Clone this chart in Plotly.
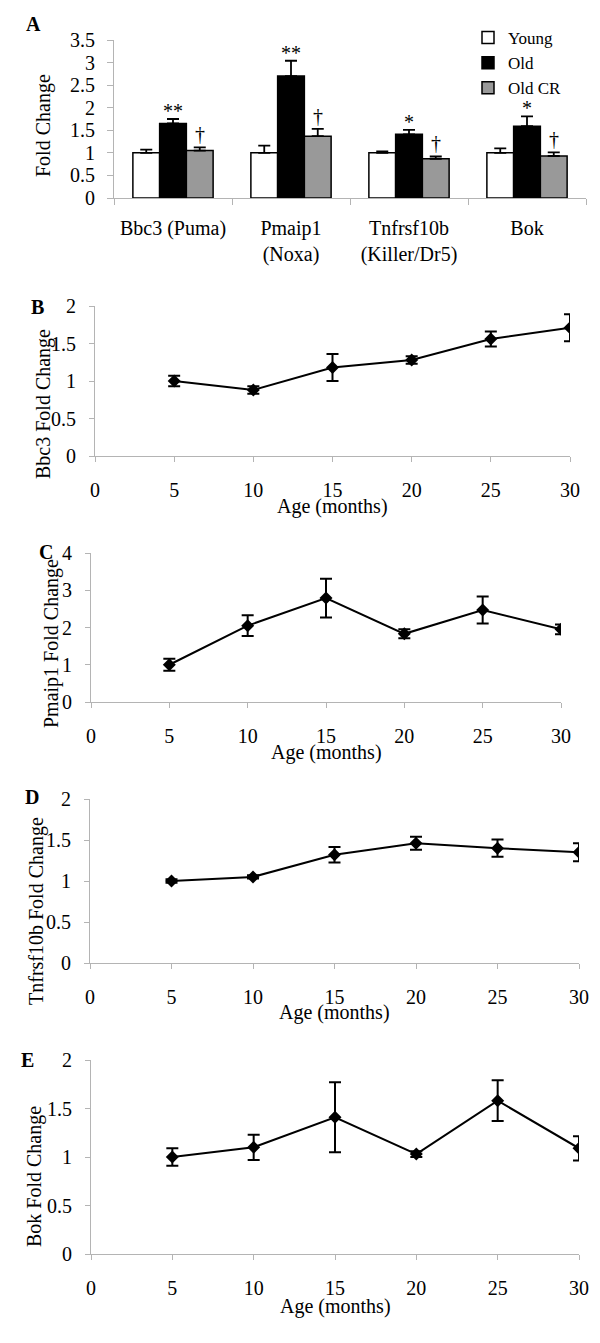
import plotly.graph_objects as go

# page body has an 8px margin; the figure is sized so it fits the window exactly
OFF = 8
W, H = 600 - OFF, 1343 - OFF

# ---------------- Data ----------------
genes = ["Bbc3 (Puma)", "Pmaip1<br>(Noxa)", "Tnfrsf10b<br>(Killer/Dr5)", "Bok"]
young = [1.0, 1.0, 1.0, 1.0]
young_err = [0.07, 0.16, 0.03, 0.10]
old = [1.65, 2.70, 1.41, 1.59]
old_err = [0.10, 0.34, 0.10, 0.22]
old_cr = [1.05, 1.37, 0.87, 0.93]
old_cr_err = [0.07, 0.16, 0.05, 0.08]
sig_old = ["**", "**", "*", "*"]
sig_cr = ["†", "†", "†", "†"]

age = [5, 10, 15, 20, 25, 30]
bbc3 = [1.00, 0.88, 1.18, 1.28, 1.56, 1.71]
bbc3_err = [0.07, 0.05, 0.18, 0.05, 0.10, 0.18]
pmaip1 = [1.00, 2.05, 2.79, 1.83, 2.47, 1.95]
pmaip1_err = [0.16, 0.28, 0.52, 0.12, 0.36, 0.13]
tnfrsf10b = [1.00, 1.05, 1.32, 1.46, 1.40, 1.35]
tnfrsf10b_err = [0.02, 0.02, 0.095, 0.08, 0.105, 0.11]
bok = [1.00, 1.10, 1.41, 1.03, 1.58, 1.09]
bok_err = [0.09, 0.13, 0.36, 0.03, 0.21, 0.125]

FONT = "Liberation Serif, Times New Roman, serif"
AXC = "#b4b4b4"
FS = 20

def xd(a, b):
    return [(a - OFF) / W, (b - OFF) / W]

def yd(top, bottom):
    return [1 - (bottom - OFF) / H, 1 - (top - OFF) / H]

def pap(px, py):
    return (px - OFF) / W, 1 - (py - OFF) / H

fig = go.Figure()

# ---------------- Panel A ----------------
for name, vals, errs, fill in [("Young", young, young_err, "white"),
                               ("Old", old, old_err, "black"),
                               ("Old CR", old_cr, old_cr_err, "#999999")]:
    fig.add_trace(go.Bar(
        x=genes, y=vals, name=name, xaxis="x", yaxis="y",
        marker=dict(color=fill, line=dict(color="black", width=1.5)),
        error_y=dict(type="data", array=errs, arrayminus=[0] * len(errs),
                     symmetric=False, color="black", thickness=1.8, width=6),
    ))

line_panels = [
    ("x2", "y2", bbc3, bbc3_err),
    ("x3", "y3", pmaip1, pmaip1_err),
    ("x4", "y4", tnfrsf10b, tnfrsf10b_err),
    ("x5", "y5", bok, bok_err),
]
for xa, ya, vals, errs in line_panels:
    fig.add_trace(go.Scatter(
        x=age, y=vals, xaxis=xa, yaxis=ya, mode="lines+markers",
        showlegend=False,
        line=dict(color="black", width=2),
        marker=dict(symbol="diamond", size=10, color="black"),
        error_y=dict(type="data", array=errs, color="black", thickness=2, width=6),
    ))

tickfont = dict(family=FONT, size=FS, color="black")

def lin_axes(n, x0, x1, top, bottom, ymax, dtick, ystand):
    fig.layout[f"xaxis{n}"] = dict(
        domain=xd(x0, x1), anchor=f"y{n}", range=[0, 30],
        tickmode="array", tickvals=[0, 5, 10, 15, 20, 25, 30],
        showline=True, linecolor=AXC, linewidth=1,
        ticks="outside", ticklen=5, tickcolor=AXC,
        showgrid=False, zeroline=False, tickfont=tickfont,
        ticklabelstandoff=11, automargin=False, tickangle=0)
    fig.layout[f"yaxis{n}"] = dict(
        domain=yd(top, bottom), anchor=f"x{n}", range=[0, ymax],
        dtick=dtick, showline=True, linecolor=AXC, linewidth=1,
        ticks="outside", ticklen=5, tickcolor=AXC,
        showgrid=False, zeroline=False, tickfont=tickfont,
        ticklabelstandoff=ystand, automargin=False)

fig.update_layout(
    width=W, height=H, margin=dict(l=0, r=0, t=0, b=0, autoexpand=False),
    paper_bgcolor="white", plot_bgcolor="white",
    font=dict(family=FONT, size=FS, color="black"),
    barmode="group", bargap=0.32, bargroupgap=0,
    legend=dict(x=(468 - OFF) / W, y=1 - (20 - OFF) / H, xanchor="left", yanchor="top",
                font=dict(family=FONT, size=17, color="black"),
                bgcolor="rgba(0,0,0,0)", itemwidth=30, tracegroupgap=0),
    xaxis=dict(domain=xd(114, 586), anchor="y", showline=True, linecolor=AXC,
               ticks="outside", ticklen=6, tickcolor=AXC, tickson="boundaries",
               showgrid=False, tickfont=tickfont, ticklabelstandoff=12,
               automargin=False, tickangle=0),
    yaxis=dict(domain=yd(40, 198), anchor="x", range=[0, 3.5], dtick=0.5,
               showline=True, linecolor=AXC, ticks="outside", ticklen=6,
               tickcolor=AXC, showgrid=False, zeroline=False, tickfont=tickfont,
               ticklabelstandoff=8, automargin=False),
)

lin_axes(2, 95, 570, 306, 456, 2, 0.5, 9)
lin_axes(3, 91, 561, 553, 702, 4, 1, 9)
lin_axes(4, 90, 579, 799, 963, 2, 0.5, 9)
lin_axes(5, 91, 579, 1060, 1254, 2, 0.5, 9)

ann = []
# significance marks (bar width in px used to place the Old CR mark)
bar_px = (586 - 114) / len(genes) * (1 - 0.32) / 3
for g, v, e, s in zip(genes, old, old_err, sig_old):
    ann.append(dict(x=g, y=v + e, xref="x", yref="y", text=s, showarrow=False,
                    xanchor="center", yanchor="bottom", yshift=-5,
                    font=dict(family=FONT, size=FS, color="black")))
for g, v, e, s in zip(genes, old_cr, old_cr_err, sig_cr):
    ann.append(dict(x=g, y=v + e, xref="x", yref="y", text=s, showarrow=False,
                    xanchor="center", yanchor="bottom", xshift=bar_px, yshift=0,
                    font=dict(family=FONT, size=FS, color="black")))

# panel letters
for letter, px, py in [("A", 33, 24), ("B", 37, 307), ("C", 46, 552), ("D", 32, 797), ("E", 27, 1060)]:
    x, y = pap(px, py)
    ann.append(dict(x=x, y=y, xref="paper", yref="paper", text=f"<b>{letter}</b>",
                    xanchor="center", yanchor="middle",
                    showarrow=False, font=dict(family=FONT, size=FS, color="black")))

# y titles
for txt, px, py in [("Fold Change", 44, 126), ("Bbc3 Fold Change", 43, 404),
                    ("Pmaip1 Fold Change", 51, 643), ("Tnfrsf10b Fold Change", 36, 911),
                    ("Bok Fold Change", 34, 1177)]:
    x, y = pap(px, py)
    ann.append(dict(x=x, y=y, xref="paper", yref="paper", text=txt, textangle=-90,
                    xanchor="center", yanchor="middle",
                    showarrow=False, font=dict(family=FONT, size=FS, color="black")))

# x titles
for px, py in [(332, 506), (326, 752), (334, 1012), (335, 1306)]:
    x, y = pap(px, py)
    ann.append(dict(x=x, y=y, xref="paper", yref="paper", text="Age (months)",
                    xanchor="center", yanchor="middle",
                    showarrow=False, font=dict(family=FONT, size=FS, color="black")))

fig.update_layout(annotations=ann)
fig.write_html("out.html")
